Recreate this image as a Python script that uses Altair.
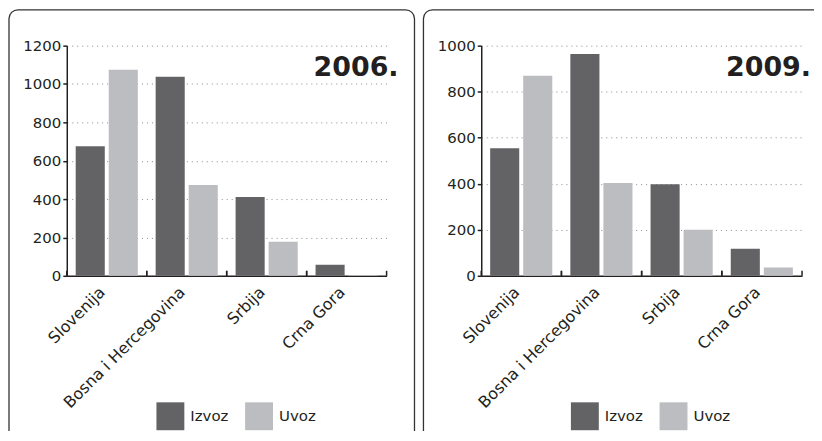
import altair as alt
import pandas as pd

countries = ["Slovenija", "Bosna i Hercegovina", "Srbija", "Crna Gora"]
series = ["Izvoz", "Uvoz"]
izvoz_2006 = [675, 1038, 411, 58]
uvoz_2006 = [1074, 473, 178, 4]
izvoz_2009 = [554, 964, 398, 118]
uvoz_2009 = [869, 403, 200, 36]
y_ticks_2006 = [0, 200, 400, 600, 800, 1000, 1200]
y_ticks_2009 = [0, 200, 400, 600, 800, 1000]

DARK = "#636366"
LIGHT = "#bcbdc0"
INK = "#231f20"
FONT = "DejaVu Sans"


def panel(year, izvoz, uvoz, ticks, W, H, right_ext, title_dx):
    df = pd.DataFrame({
        "Zemlja": countries * 2,
        "Tip": [series[0]] * 4 + [series[1]] * 4,
        "Vrijednost": izvoz + uvoz,
    })
    xscale = alt.Scale(paddingInner=0, paddingOuter=0)
    bars = alt.Chart(df).mark_bar().encode(
        x=alt.X("Zemlja:N", sort=countries, scale=xscale,
                axis=alt.Axis(title=None, labelAngle=-45, tickSize=0,
                              domainColor=INK, domainWidth=1.5,
                              labelFontSize=16, labelPadding=8,
                              labelOffset=-10,
                              labelColor=INK, grid=False)),
        xOffset=alt.XOffset("Tip:N", sort=series,
                            scale=alt.Scale(paddingInner=0.12, paddingOuter=0.27)),
        y=alt.Y("Vrijednost:Q",
                scale=alt.Scale(domain=[ticks[0], ticks[-1]], nice=False),
                axis=alt.Axis(title=None, values=ticks, format="d", tickSize=4,
                              tickColor=INK, tickWidth=1.5,
                              domainColor=INK, domainWidth=1.5,
                              labelFontSize=15, labelPadding=2,
                              labelColor=INK, grid=True,
                              gridDash=[1, 4], gridColor="#8a8a8a",
                              gridWidth=1)),
        color=alt.Color("Tip:N",
                        scale=alt.Scale(domain=series, range=[DARK, LIGHT]),
                        legend=alt.Legend(title=None, orient="none",
                                          legendX=90, legendY=358,
                                          direction="horizontal",
                                          symbolType="square",
                                          symbolSize=784,
                                          symbolStrokeWidth=0,
                                          labelFontSize=15,
                                          labelColor=INK,
                                          labelOffset=6,
                                          columnPadding=16,
                                          padding=0)),
    )
    cat_df = pd.DataFrame({"Zemlja": countries})
    ticks_left = alt.Chart(cat_df).mark_rule(color=INK, strokeWidth=1.5).encode(
        x=alt.X("Zemlja:N", sort=countries, bandPosition=0),
        y=alt.value(H - 5), y2=alt.value(H),
    )
    ticks_right = alt.Chart(cat_df).mark_rule(color=INK, strokeWidth=1.5).encode(
        x=alt.X("Zemlja:N", sort=countries, bandPosition=1),
        y=alt.value(H - 5), y2=alt.value(H),
    )
    ydf = pd.DataFrame({"god": [year]})
    title = alt.Chart(ydf).mark_text(
        align="right", baseline="alphabetic", fontSize=27,
        fontWeight="bold", font=FONT, color=INK,
    ).encode(x=alt.value(W + title_dx), y=alt.value(30), text="god:N")
    border = alt.Chart(ydf).mark_rect(
        fill="white", fillOpacity=0, stroke="#333333", strokeWidth=1.3,
        cornerRadius=9,
    ).encode(x=alt.value(-58), x2=alt.value(W + right_ext),
             y=alt.value(-36), y2=alt.value(H + 172))
    return alt.layer(border, bars, ticks_left, ticks_right, title).properties(
        width=W, height=H)


p1 = panel("2006.", izvoz_2006, uvoz_2006, y_ticks_2006, 321, 231, 28, 12)
p2 = panel("2009.", izvoz_2009, uvoz_2009, y_ticks_2009, 322, 231, 40, 9)

chart = alt.hconcat(p1, p2, spacing=7).resolve_scale(
    color="independent").resolve_legend(color="independent").properties(
    padding={"left": 0, "top": 0, "right": -29, "bottom": -18}
).configure(font=FONT).configure_view(stroke=None)

chart.save("out.html", embed_options={"renderer": "svg", "actions": False})
